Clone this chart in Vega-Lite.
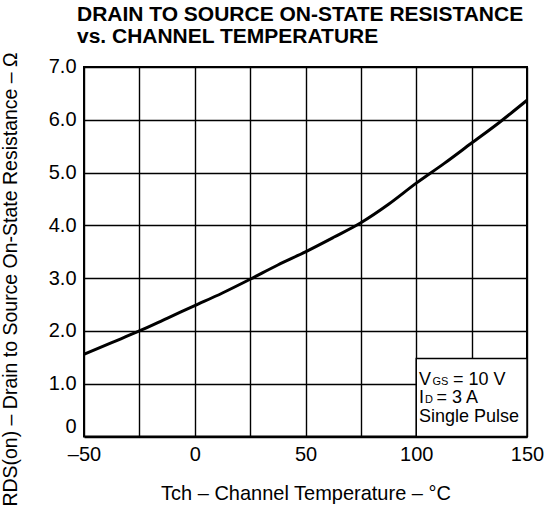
{
  "$schema": "https://vega.github.io/schema/vega-lite/v6.json",
  "autosize": "none",
  "width": 443,
  "height": 369.6,
  "padding": {"left": 84, "top": 67, "right": 19, "bottom": 73},
  "background": "white",
  "config": {
    "font": "Liberation Sans",
    "view": {"stroke": "black", "strokeWidth": 2},
    "axis": {
      "grid": true,
      "gridColor": "black",
      "gridOpacity": 1,
      "gridWidth": 1.4,
      "domain": false,
      "ticks": false,
      "tickSize": 0,
      "labelFont": "Liberation Sans",
      "labelFontSize": 20,
      "labelColor": "black",
      "titleFont": "Liberation Sans",
      "titleFontSize": 19.5,
      "titleFontWeight": "normal",
      "titleColor": "black"
    }
  },
  "title": {
    "text": ["DRAIN TO SOURCE ON-STATE RESISTANCE", "vs. CHANNEL TEMPERATURE"],
    "anchor": "start",
    "frame": "group",
    "dx": -7,
    "offset": 5,
    "font": "Liberation Sans",
    "fontSize": 21,
    "fontWeight": "bold",
    "lineHeight": 22,
    "color": "black"
  },
  "datasets": {
    "curve": [
      {"t": -50, "r": 1.56},
      {"t": -37.5, "r": 1.78},
      {"t": -25, "r": 2.0},
      {"t": -12.5, "r": 2.24},
      {"t": 0, "r": 2.48},
      {"t": 12.5, "r": 2.72},
      {"t": 25, "r": 2.98},
      {"t": 37.5, "r": 3.25},
      {"t": 50, "r": 3.5},
      {"t": 62.5, "r": 3.77},
      {"t": 75, "r": 4.05},
      {"t": 87.5, "r": 4.4},
      {"t": 100, "r": 4.8},
      {"t": 112.5, "r": 5.17},
      {"t": 125, "r": 5.56},
      {"t": 137.5, "r": 5.95},
      {"t": 150, "r": 6.37}
    ],
    "box": [{"x1": 100, "x2": 150, "y1": 0, "y2": 1.48}],
    "notes": [
      {"line": 1, "x": 101.2, "y": 0.975, "head": "V", "sub": "GS", "rest": "= 10 V"},
      {"line": 2, "x": 101.2, "y": 0.634, "head": "I", "sub": "D", "rest": "= 3 A"},
      {"line": 3, "x": 101.2, "y": 0.275, "head": "Single Pulse", "sub": "", "rest": ""}
    ]
  },
  "layer": [
    {
      "data": {"name": "curve"},
      "mark": {"type": "line", "color": "black", "strokeWidth": 3, "interpolate": "monotone"},
      "encoding": {
        "x": {
          "field": "t", "type": "quantitative",
          "scale": {"domain": [-50, 150], "nice": false, "zero": false},
          "axis": {
            "values": [-50, -25, 0, 25, 50, 75, 100, 125, 150],
            "labelExpr": "datum.value % 50 == 0 ? (datum.value < 0 ? '–' + abs(datum.value) : datum.label) : ''",
            "labelPadding": 8,
            "labelFlush": false,
            "title": "Tch – Channel Temperature – °C",
            "titleFontSize": 20,
            "titleBaseline": "alphabetic",
            "titleY": 63
          }
        },
        "y": {
          "field": "r", "type": "quantitative",
          "scale": {"domain": [0, 7], "nice": false},
          "axis": {
            "values": [0, 1, 2, 3, 4, 5, 6, 7],
            "labelExpr": "datum.value == 0 ? '0' : format(datum.value, '.1f')",
            "labelBaseline": {"condition": {"test": "datum.value == 0", "value": "bottom"}, "value": "middle"},
            "labelPadding": 8,
            "labelFlush": false,
            "title": "RDS(on) – Drain to Source On-State Resistance – Ω",
            "titleX": -64,
            "titleY": 212
          }
        }
      }
    },
    {
      "data": {"name": "box"},
      "mark": {"type": "rect", "fill": "white", "stroke": "black", "strokeWidth": 1.5},
      "encoding": {
        "x": {"field": "x1", "type": "quantitative"},
        "x2": {"field": "x2"},
        "y": {"field": "y1", "type": "quantitative"},
        "y2": {"field": "y2"}
      }
    },
    {
      "data": {"name": "notes"},
      "mark": {"type": "text", "align": "left", "baseline": "alphabetic", "fontSize": 18, "font": "Liberation Sans", "color": "black"},
      "encoding": {
        "x": {"field": "x", "type": "quantitative"},
        "y": {"field": "y", "type": "quantitative"},
        "text": {"field": "head"}
      }
    },
    {
      "data": {"name": "notes"},
      "transform": [{"filter": "datum.line == 1"}],
      "mark": {"type": "text", "align": "left", "baseline": "alphabetic", "fontSize": 11, "dx": 13.5, "font": "Liberation Sans", "color": "black"},
      "encoding": {
        "x": {"field": "x", "type": "quantitative"},
        "y": {"field": "y", "type": "quantitative"},
        "text": {"field": "sub"}
      }
    },
    {
      "data": {"name": "notes"},
      "transform": [{"filter": "datum.line == 2"}],
      "mark": {"type": "text", "align": "left", "baseline": "alphabetic", "fontSize": 11, "dx": 6, "font": "Liberation Sans", "color": "black"},
      "encoding": {
        "x": {"field": "x", "type": "quantitative"},
        "y": {"field": "y", "type": "quantitative"},
        "text": {"field": "sub"}
      }
    },
    {
      "data": {"name": "notes"},
      "transform": [{"filter": "datum.line == 1"}],
      "mark": {"type": "text", "align": "left", "baseline": "alphabetic", "fontSize": 18, "dx": 34, "font": "Liberation Sans", "color": "black"},
      "encoding": {
        "x": {"field": "x", "type": "quantitative"},
        "y": {"field": "y", "type": "quantitative"},
        "text": {"field": "rest"}
      }
    },
    {
      "data": {"name": "notes"},
      "transform": [{"filter": "datum.line == 2"}],
      "mark": {"type": "text", "align": "left", "baseline": "alphabetic", "fontSize": 18, "dx": 17.5, "font": "Liberation Sans", "color": "black"},
      "encoding": {
        "x": {"field": "x", "type": "quantitative"},
        "y": {"field": "y", "type": "quantitative"},
        "text": {"field": "rest"}
      }
    }
  ]
}
